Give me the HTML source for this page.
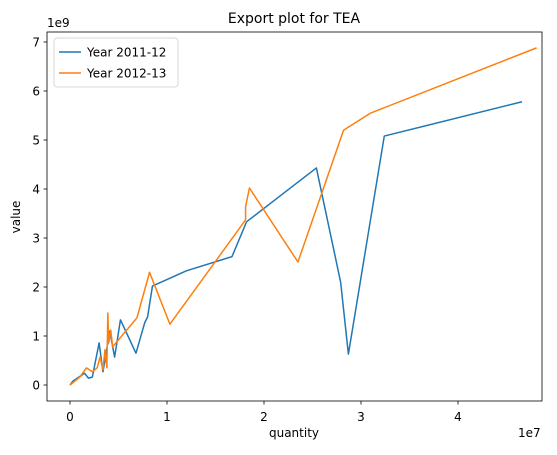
<!DOCTYPE html>
<html><head><meta charset="utf-8"><style>
body{margin:0;background:#fff;}
svg{display:block;font-family:"DejaVu Sans","Liberation Sans",sans-serif;}
</style></head><body>
<svg id="chart" width="557" height="455"></svg>
<script>
const xTicks=[0,1,2,3,4];
const yTicks=[0,1,2,3,4,5,6,7];
const qty1112=[0,0.03,0.15,0.19,0.23,0.30,0.34,0.41,0.46,0.52,0.68,0.77,0.80,0.85,1.20,1.67,1.82,2.54,2.79,2.87,3.24,4.66];
const val1112=[0,0.08,0.24,0.14,0.16,0.86,0.27,1.10,0.57,1.33,0.65,1.27,1.39,2.02,2.33,2.62,3.33,4.43,2.10,0.63,5.08,5.78];
const qty1213=[0,0.10,0.17,0.23,0.28,0.31,0.34,0.36,0.38,0.39,0.40,0.42,0.44,0.69,0.82,1.03,1.81,1.81,1.85,2.35,2.82,3.10,4.81];
const val1213=[0,0.16,0.35,0.27,0.35,0.57,0.31,0.72,0.35,1.47,0.86,1.12,0.78,1.37,2.30,1.24,3.37,3.64,4.02,2.51,5.20,5.55,6.88];
const NS='http://www.w3.org/2000/svg';
const svg=document.getElementById('chart');
const L=47,R=542,T=32,B=401;
const sx=v=>70+v*97;
const sy=v=>385-v*49;
function mk(tag,attrs,parent){const e=document.createElementNS(NS,tag);for(const k in attrs)e.setAttribute(k,attrs[k]);(parent||svg).appendChild(e);return e;}
const frame=mk('rect',{x:L,y:T,width:R-L,height:B-T,fill:'none',stroke:'#000','stroke-width':0.8});


xTicks.forEach(t=>{
  const g=mk('g',{});
  
  
  mk('line',{x1:sx(t),x2:sx(t),y1:B,y2:B+3.5,stroke:'#000','stroke-width':0.8},g);
  const tx=mk('text',{x:sx(t),y:B+20,'text-anchor':'middle','font-size':12,fill:'#000'},g);tx.textContent=t;
});
yTicks.forEach(t=>{
  const g=mk('g',{});
  
  
  mk('line',{x1:L,x2:L-3.5,y1:sy(t),y2:sy(t),stroke:'#000','stroke-width':0.8},g);
  const tx=mk('text',{x:L-7,y:sy(t)+4.5,'text-anchor':'end','font-size':12,fill:'#000'},g);tx.textContent=t;
});
function series(xs,ys,color,name){
  const p=mk('polyline',{points:xs.map((x,i)=>sx(x)+','+sy(ys[i])).join(' '),fill:'none',stroke:color,'stroke-width':1.5,'stroke-linejoin':'round'});
  
  
}
series(qty1112,val1112,'#1f77b4','line-2011-12');
series(qty1213,val1213,'#ff7f0e','line-2012-13');
function txt(s,attrs,name){const e=mk('text',attrs);e.textContent=s;return e;}
txt('Export plot for TEA',{x:294,y:23,'text-anchor':'middle','font-size':14,fill:'#000'},'chart-title');
txt('quantity',{x:294,y:437,'text-anchor':'middle','font-size':12,fill:'#000'},'x-axis-title');
txt('value',{x:20,y:217,'text-anchor':'middle','font-size':12,fill:'#000',transform:'rotate(-90 20 217)'},'y-axis-title');
txt('1e9',{x:47,y:27,'font-size':12,fill:'#000'},'y-offset-label');
txt('1e7',{x:518,y:437,'font-size':12,fill:'#000'},'x-offset-label');
const lg=mk('g',{});


mk('rect',{x:54,y:38,width:124,height:49,rx:3,fill:'#fff',stroke:'#ccc','stroke-width':0.8},lg);
[['Year 2011-12','#1f77b4',52],['Year 2012-13','#ff7f0e',73]].forEach(([s,c,y],i)=>{
  const g=mk('g',{},lg);
  
  
  mk('line',{x1:59,x2:81,y1:y,y2:y,stroke:c,'stroke-width':1.5},g);
  const t=mk('text',{x:87,y:y+4.5,'font-size':12,fill:'#000'},g);t.textContent=s;
});
</script>
</body></html>
